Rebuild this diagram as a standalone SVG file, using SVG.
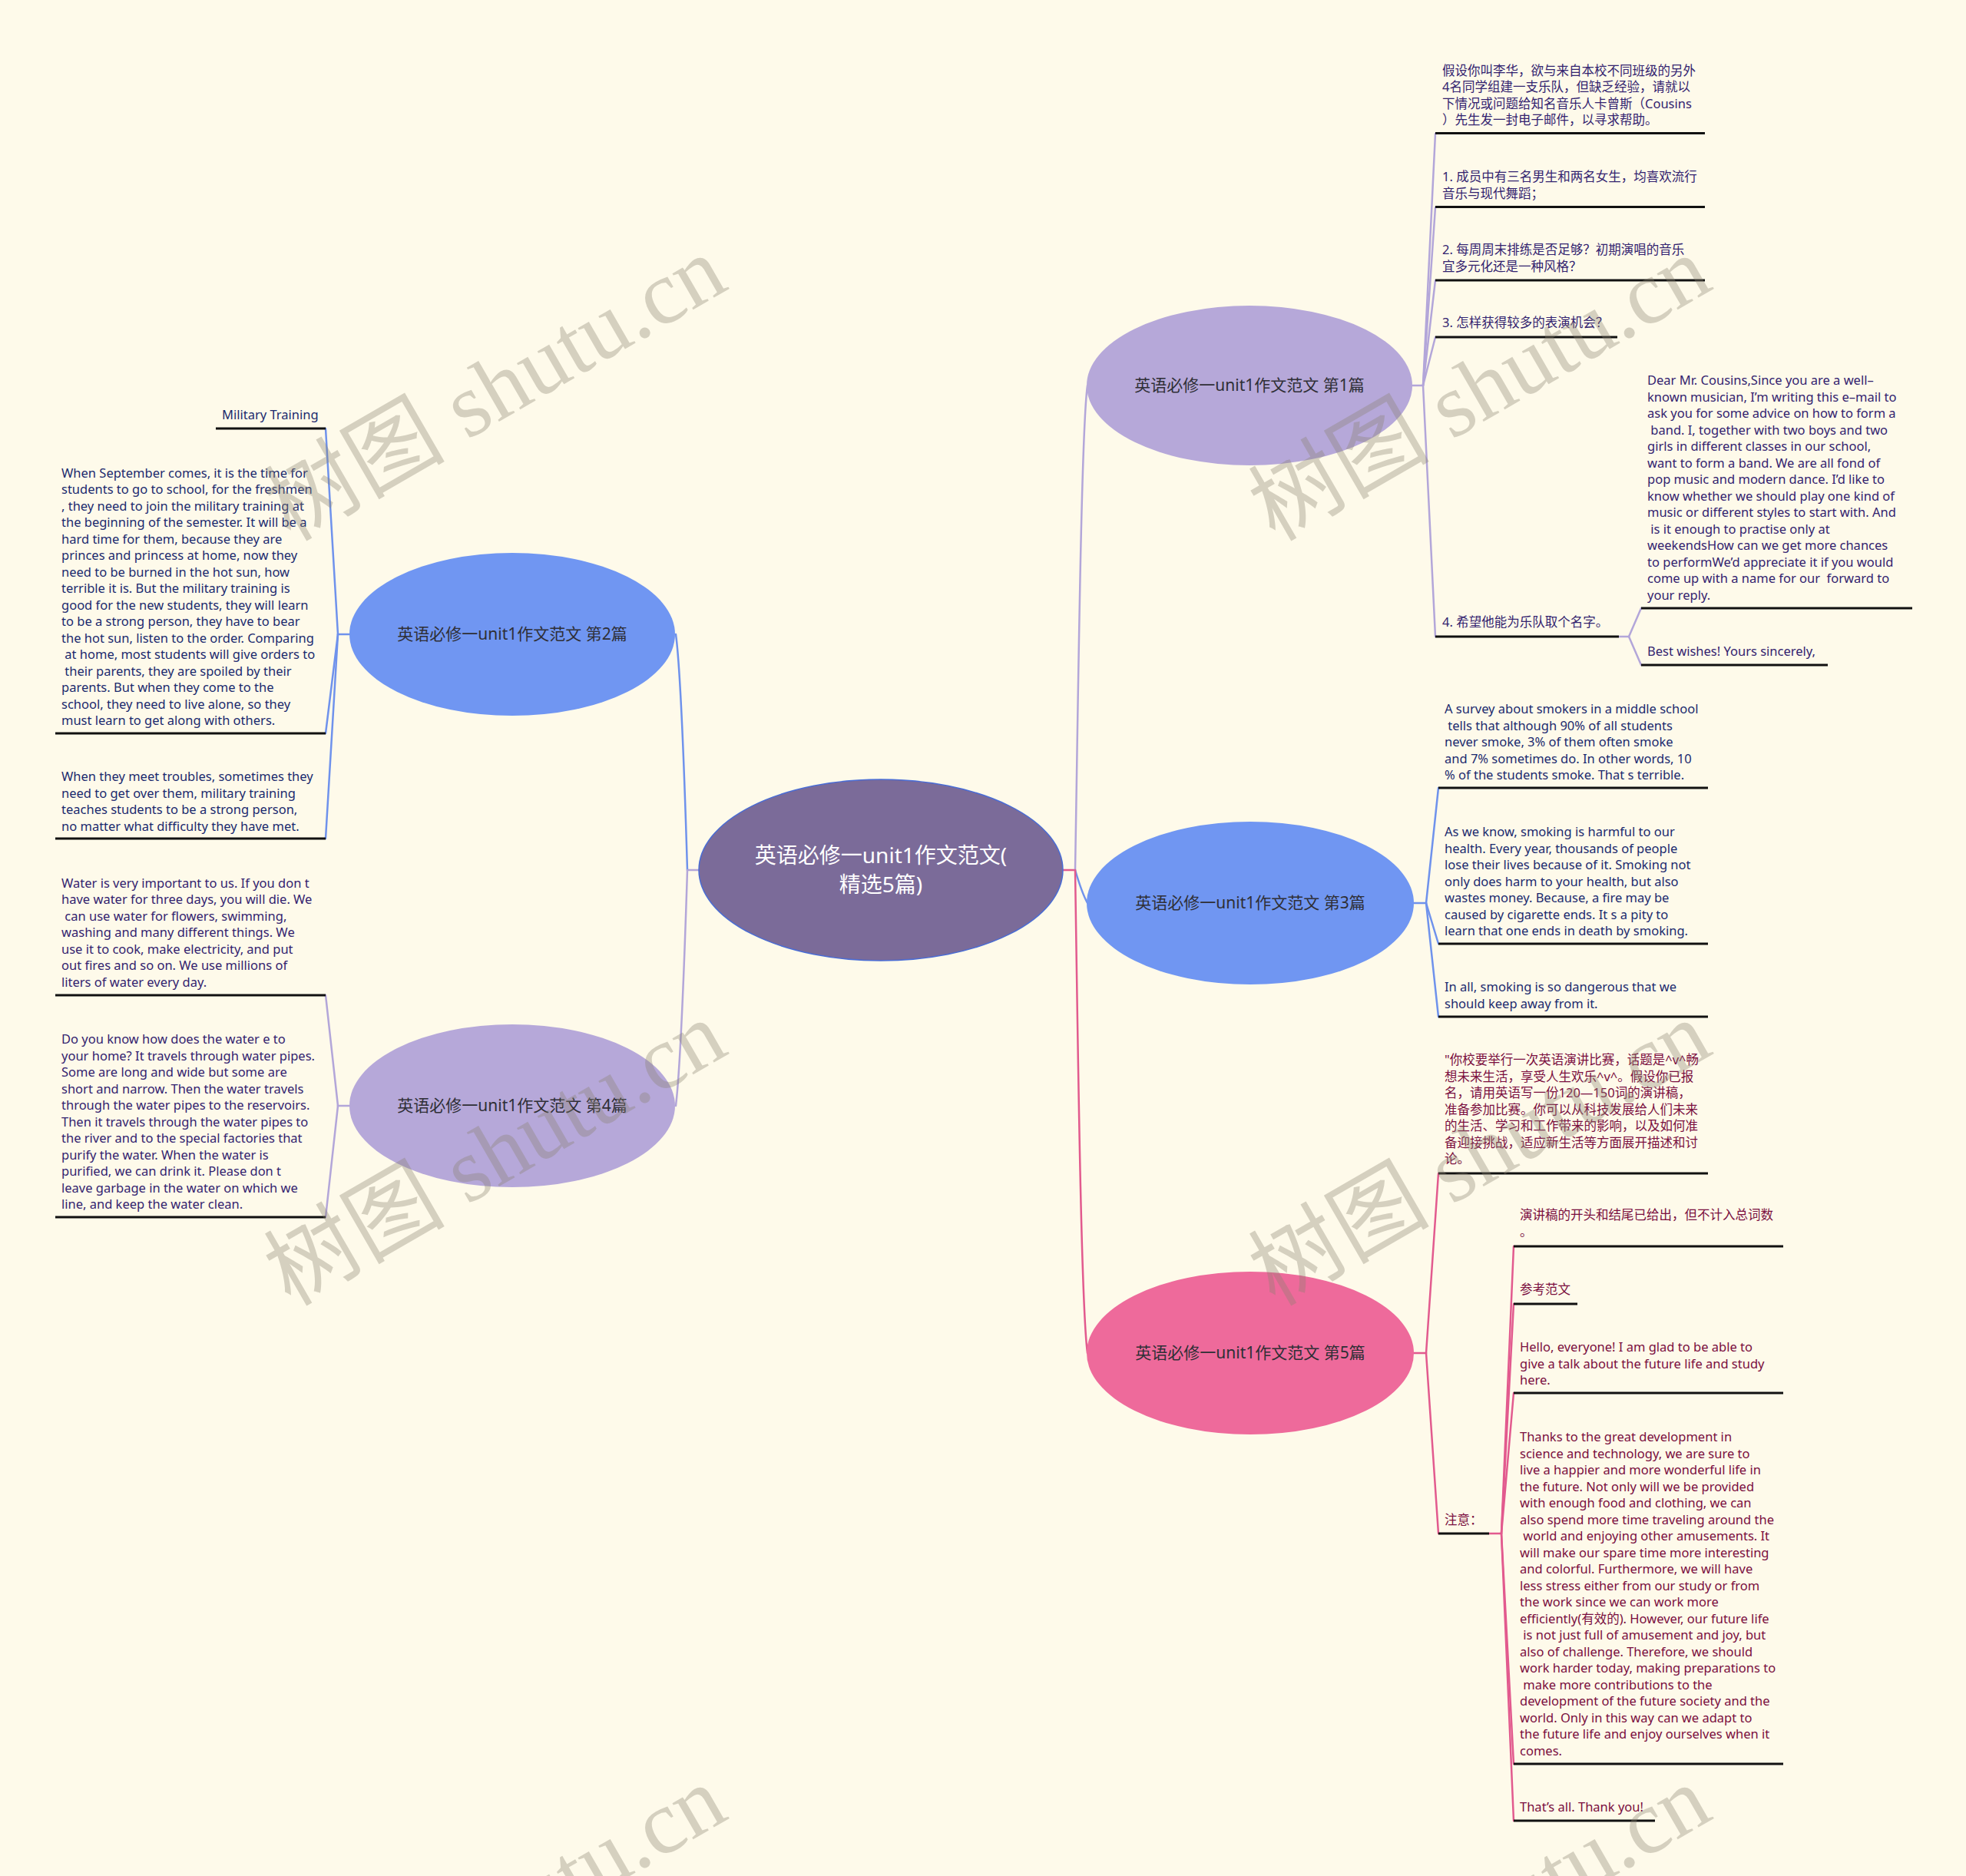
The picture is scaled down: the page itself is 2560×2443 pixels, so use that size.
<svg xmlns="http://www.w3.org/2000/svg" width="2560" height="2443" viewBox="0 0 2560 2443">
<style>
.lf{font-family:"Noto Sans","Noto Sans CJK SC",sans-serif;font-size:16.5px}
.nd{font-family:"Noto Sans","Noto Sans CJK SC",sans-serif;font-size:21px;fill:#2f2f36;text-anchor:middle}
.ct{font-family:"Noto Sans","Noto Sans CJK SC",sans-serif;font-size:28px;fill:#ffffff;text-anchor:middle}
.ul{stroke:#111111;stroke-width:3;fill:none}
.cn{fill:none;stroke-width:2.5;stroke-linecap:round}
.pu{stroke:#b3a6d9}
.bl{stroke:#6f92ec}
.pk{stroke:#e25a8e}
.t1{fill:#33236f}
.t2{fill:#1b2a6e}
.t5{fill:#7a0e3e}
.wm{font-family:"Liberation Serif","Noto Sans CJK SC",serif;font-size:118px;fill:#8a8370;opacity:0.35}
</style>
<rect x="0" y="0" width="2560" height="2443" fill="#fefaea"/>

<g id="connectors">
  <path class="cn pk" d="M1384,1133 L1400,1133"/>
  <path class="cn pu" d="M1400,1133 C1404,900 1408,560 1416,502"/>
  <path class="cn bl" d="M1400,1133 C1405,1150 1410,1165 1416,1176"/>
  <path class="cn pk" d="M1400,1133 C1404,1400 1408,1700 1416,1762"/>
  <path class="cn pu" d="M910,1133 L895,1133"/>
  <path class="cn bl" d="M895,1133 C891,1000 886,870 880,826"/>
  <path class="cn pu" d="M895,1133 C891,1260 886,1390 880,1440"/>
  <path class="cn pu" d="M1838,502 L1853,502"/>
  <path class="cn pu" d="M1853,502 L1869,174"/>
  <path class="cn pu" d="M1853,502 L1869,270"/>
  <path class="cn pu" d="M1853,502 L1869,365"/>
  <path class="cn pu" d="M1853,502 L1869,439"/>
  <path class="cn pu" d="M1853,502 L1869,829"/>
  <path class="cn pu" d="M2108,829 L2121,829"/>
  <path class="cn pu" d="M2121,829 L2137,792"/>
  <path class="cn pu" d="M2121,829 L2137,866"/>
  <path class="cn bl" d="M1841,1176 L1857,1176"/>
  <path class="cn bl" d="M1857,1176 L1873,1026"/>
  <path class="cn bl" d="M1857,1176 L1873,1229"/>
  <path class="cn bl" d="M1857,1176 L1873,1324"/>
  <path class="cn pk" d="M1841,1762 L1857,1762"/>
  <path class="cn pk" d="M1857,1762 L1873,1528"/>
  <path class="cn pk" d="M1857,1762 L1873,1997"/>
  <path class="cn pk" d="M1939,1997 L1955,1997"/>
  <path class="cn pk" d="M1955,1997 L1971,1623"/>
  <path class="cn pk" d="M1955,1997 L1971,1698"/>
  <path class="cn pk" d="M1955,1997 L1971,1814"/>
  <path class="cn pk" d="M1955,1997 L1971,2297"/>
  <path class="cn pk" d="M1955,1997 L1971,2371"/>
  <path class="cn bl" d="M455,826 L440,826"/>
  <path class="cn bl" d="M440,826 L424,558"/>
  <path class="cn bl" d="M440,826 L424,955"/>
  <path class="cn bl" d="M440,826 L424,1092"/>
  <path class="cn pu" d="M455,1440 L440,1440"/>
  <path class="cn pu" d="M440,1440 L424,1296"/>
  <path class="cn pu" d="M440,1440 L424,1585"/>
</g>

<g id="center">
  <ellipse cx="1147" cy="1133" rx="237" ry="118" fill="#7b6b99" stroke="#4a6cd4" stroke-width="1.5"/>
  <text class="ct" x="1147" y="1124">英语必修一unit1作文范文(</text>
  <text class="ct" x="1147" y="1162">精选5篇)</text>
</g>

<g id="b1">
  <ellipse cx="1627" cy="502" rx="212" ry="104" fill="#b6a8d9"/>
  <text class="nd" x="1627" y="509">英语必修一unit1作文范文 第1篇</text>
</g>
<g id="b2">
  <ellipse cx="667" cy="826" rx="212" ry="106" fill="#7096f2"/>
  <text class="nd" x="667" y="833">英语必修一unit1作文范文 第2篇</text>
</g>
<g id="b3">
  <ellipse cx="1628" cy="1176" rx="213" ry="106" fill="#7096f2"/>
  <text class="nd" x="1628" y="1183">英语必修一unit1作文范文 第3篇</text>
</g>
<g id="b4">
  <ellipse cx="667" cy="1440" rx="212" ry="106" fill="#b6a8d9"/>
  <text class="nd" x="667" y="1447">英语必修一unit1作文范文 第4篇</text>
</g>
<g id="b5">
  <ellipse cx="1628" cy="1762" rx="213" ry="106" fill="#ee6a9b"/>
  <text class="nd" x="1628" y="1769">英语必修一unit1作文范文 第5篇</text>
</g>

<g id="b1-l1">
  <text class="lf t1"><tspan x="1878" y="97.5">假设你叫李华，欲与来自本校不同班级的另外</tspan><tspan x="1878" y="119">4名同学组建一支乐队，但缺乏经验，请就以</tspan><tspan x="1878" y="140.5">下情况或问题给知名音乐人卡曾斯（Cousins</tspan><tspan x="1878" y="162">）先生发一封电子邮件，以寻求帮助。</tspan></text>
  <line class="ul" x1="1869" y1="173.5" x2="2220" y2="173.5"/>
</g>
<g id="b1-l2">
  <text class="lf t1"><tspan x="1878" y="236">1. 成员中有三名男生和两名女生，均喜欢流行</tspan><tspan x="1878" y="257.5">音乐与现代舞蹈；</tspan></text>
  <line class="ul" x1="1869" y1="269.5" x2="2220" y2="269.5"/>
</g>
<g id="b1-l3">
  <text class="lf t1"><tspan x="1878" y="331">2. 每周周末排练是否足够？初期演唱的音乐</tspan><tspan x="1878" y="352.5">宜多元化还是一种风格？</tspan></text>
  <line class="ul" x1="1869" y1="365" x2="2220" y2="365"/>
</g>
<g id="b1-l4">
  <text class="lf t1" x="1878" y="426">3. 怎样获得较多的表演机会？</text>
  <line class="ul" x1="1869" y1="439" x2="2106" y2="439"/>
</g>
<g id="b1-l5">
  <text class="lf t1" x="1878" y="816">4. 希望他能为乐队取个名字。</text>
  <line class="ul" x1="1869" y1="829" x2="2108" y2="829"/>
</g>
<g id="b1-l5a">
  <text class="lf t1"><tspan x="2145" y="501">Dear Mr. Cousins,Since you are a well–</tspan><tspan x="2145" y="522.5">known musician, I’m writing this e–mail to</tspan><tspan x="2145" y="544">ask you for some advice on how to form a</tspan><tspan x="2145" y="565.5">&#160;band. I, together with two boys and two</tspan><tspan x="2145" y="587">girls in different classes in our school,</tspan><tspan x="2145" y="608.5">want to form a band. We are all fond of</tspan><tspan x="2145" y="630">pop music and modern dance. I’d like to</tspan><tspan x="2145" y="651.5">know whether we should play one kind of</tspan><tspan x="2145" y="673">music or different styles to start with. And</tspan><tspan x="2145" y="694.5">&#160;is it enough to practise only at</tspan><tspan x="2145" y="716">weekendsHow can we get more chances</tspan><tspan x="2145" y="737.5">to performWe’d appreciate it if you would</tspan><tspan x="2145" y="759">come up with a name for our &#160;forward to</tspan><tspan x="2145" y="780.5">your reply.</tspan></text>
  <line class="ul" x1="2137" y1="792" x2="2490" y2="792"/>
</g>
<g id="b1-l5b">
  <text class="lf t1" x="2145" y="853.5">Best wishes! Yours sincerely,</text>
  <line class="ul" x1="2137" y1="866" x2="2380" y2="866"/>
</g>

<g id="b3-l1">
  <text class="lf t2"><tspan x="1881" y="929">A survey about smokers in a middle school</tspan><tspan x="1881" y="950.5">&#160;tells that although 90% of all students</tspan><tspan x="1881" y="972">never smoke, 3% of them often smoke</tspan><tspan x="1881" y="993.5">and 7% sometimes do. In other words, 10</tspan><tspan x="1881" y="1015">% of the students smoke. That s terrible.</tspan></text>
  <line class="ul" x1="1873" y1="1026" x2="2224" y2="1026"/>
</g>
<g id="b3-l2">
  <text class="lf t2"><tspan x="1881" y="1089">As we know, smoking is harmful to our</tspan><tspan x="1881" y="1110.5">health. Every year, thousands of people</tspan><tspan x="1881" y="1132">lose their lives because of it. Smoking not</tspan><tspan x="1881" y="1153.5">only does harm to your health, but also</tspan><tspan x="1881" y="1175">wastes money. Because, a fire may be</tspan><tspan x="1881" y="1196.5">caused by cigarette ends. It s a pity to</tspan><tspan x="1881" y="1218">learn that one ends in death by smoking.</tspan></text>
  <line class="ul" x1="1873" y1="1229" x2="2224" y2="1229"/>
</g>
<g id="b3-l3">
  <text class="lf t2"><tspan x="1881" y="1291">In all, smoking is so dangerous that we</tspan><tspan x="1881" y="1312.5">should keep away from it.</tspan></text>
  <line class="ul" x1="1873" y1="1324" x2="2224" y2="1324"/>
</g>

<g id="b5-l1">
  <text class="lf t5"><tspan x="1881" y="1386">"你校要举行一次英语演讲比赛，话题是^v^畅</tspan><tspan x="1881" y="1407.5">想未来生活，享受人生欢乐^v^。假设你已报</tspan><tspan x="1881" y="1429">名，请用英语写一份120—150词的演讲稿，</tspan><tspan x="1881" y="1450.5">准备参加比赛。你可以从科技发展给人们未来</tspan><tspan x="1881" y="1472">的生活、学习和工作带来的影响，以及如何准</tspan><tspan x="1881" y="1493.5">备迎接挑战，适应新生活等方面展开描述和讨</tspan><tspan x="1881" y="1515">论。</tspan></text>
  <line class="ul" x1="1873" y1="1528" x2="2224" y2="1528"/>
</g>
<g id="b5-l2">
  <text class="lf t5" x="1881" y="1985">注意：</text>
  <line class="ul" x1="1873" y1="1997" x2="1939" y2="1997"/>
</g>
<g id="b5-l2a">
  <text class="lf t5"><tspan x="1979" y="1588">演讲稿的开头和结尾已给出，但不计入总词数</tspan><tspan x="1979" y="1609.5">。</tspan></text>
  <line class="ul" x1="1971" y1="1623" x2="2322" y2="1623"/>
</g>
<g id="b5-l2b">
  <text class="lf t5" x="1979" y="1685">参考范文</text>
  <line class="ul" x1="1971" y1="1698" x2="2054" y2="1698"/>
</g>
<g id="b5-l2c">
  <text class="lf t5"><tspan x="1979" y="1760">Hello, everyone! I am glad to be able to</tspan><tspan x="1979" y="1781.5">give a talk about the future life and study</tspan><tspan x="1979" y="1803">here.</tspan></text>
  <line class="ul" x1="1971" y1="1814" x2="2322" y2="1814"/>
</g>
<g id="b5-l2d">
  <text class="lf t5"><tspan x="1979" y="1877">Thanks to the great development in</tspan><tspan x="1979" y="1898.5">science and technology, we are sure to</tspan><tspan x="1979" y="1920">live a happier and more wonderful life in</tspan><tspan x="1979" y="1941.5">the future. Not only will we be provided</tspan><tspan x="1979" y="1963">with enough food and clothing, we can</tspan><tspan x="1979" y="1984.5">also spend more time traveling around the</tspan><tspan x="1979" y="2006">&#160;world and enjoying other amusements. It</tspan><tspan x="1979" y="2027.5">will make our spare time more interesting</tspan><tspan x="1979" y="2049">and colorful. Furthermore, we will have</tspan><tspan x="1979" y="2070.5">less stress either from our study or from</tspan><tspan x="1979" y="2092">the work since we can work more</tspan><tspan x="1979" y="2113.5">efficiently(有效的). However, our future life</tspan><tspan x="1979" y="2135">&#160;is not just full of amusement and joy, but</tspan><tspan x="1979" y="2156.5">also of challenge. Therefore, we should</tspan><tspan x="1979" y="2178">work harder today, making preparations to</tspan><tspan x="1979" y="2199.5">&#160;make more contributions to the</tspan><tspan x="1979" y="2221">development of the future society and the</tspan><tspan x="1979" y="2242.5">world. Only in this way can we adapt to</tspan><tspan x="1979" y="2264">the future life and enjoy ourselves when it</tspan><tspan x="1979" y="2285.5">comes.</tspan></text>
  <line class="ul" x1="1971" y1="2297" x2="2322" y2="2297"/>
</g>
<g id="b5-l2e">
  <text class="lf t5" x="1979" y="2359">That’s all. Thank you!</text>
  <line class="ul" x1="1971" y1="2371" x2="2155" y2="2371"/>
</g>

<g id="b2-l1">
  <text class="lf t2" x="289" y="546">Military Training</text>
  <line class="ul" x1="281" y1="558" x2="424" y2="558"/>
</g>
<g id="b2-l2">
  <text class="lf t2"><tspan x="80" y="621.5">When September comes, it is the time for</tspan><tspan x="80" y="643">students to go to school, for the freshmen</tspan><tspan x="80" y="664.5">, they need to join the military training at</tspan><tspan x="80" y="686">the beginning of the semester. It will be a</tspan><tspan x="80" y="707.5">hard time for them, because they are</tspan><tspan x="80" y="729">princes and princess at home, now they</tspan><tspan x="80" y="750.5">need to be burned in the hot sun, how</tspan><tspan x="80" y="772">terrible it is. But the military training is</tspan><tspan x="80" y="793.5">good for the new students, they will learn</tspan><tspan x="80" y="815">to be a strong person, they have to bear</tspan><tspan x="80" y="836.5">the hot sun, listen to the order. Comparing</tspan><tspan x="80" y="858">&#160;at home, most students will give orders to</tspan><tspan x="80" y="879.5">&#160;their parents, they are spoiled by their</tspan><tspan x="80" y="901">parents. But when they come to the</tspan><tspan x="80" y="922.5">school, they need to live alone, so they</tspan><tspan x="80" y="944">must learn to get along with others.</tspan></text>
  <line class="ul" x1="72" y1="955" x2="424" y2="955"/>
</g>
<g id="b2-l3">
  <text class="lf t2"><tspan x="80" y="1017">When they meet troubles, sometimes they</tspan><tspan x="80" y="1038.5">need to get over them, military training</tspan><tspan x="80" y="1060">teaches students to be a strong person,</tspan><tspan x="80" y="1081.5">no matter what difficulty they have met.</tspan></text>
  <line class="ul" x1="72" y1="1092" x2="424" y2="1092"/>
</g>

<g id="b4-l1">
  <text class="lf t1"><tspan x="80" y="1155.5">Water is very important to us. If you don t</tspan><tspan x="80" y="1177">have water for three days, you will die. We</tspan><tspan x="80" y="1198.5">&#160;can use water for flowers, swimming,</tspan><tspan x="80" y="1220">washing and many different things. We</tspan><tspan x="80" y="1241.5">use it to cook, make electricity, and put</tspan><tspan x="80" y="1263">out fires and so on. We use millions of</tspan><tspan x="80" y="1284.5">liters of water every day.</tspan></text>
  <line class="ul" x1="72" y1="1296" x2="424" y2="1296"/>
</g>
<g id="b4-l2">
  <text class="lf t1"><tspan x="80" y="1359">Do you know how does the water e to</tspan><tspan x="80" y="1380.5">your home? It travels through water pipes.</tspan><tspan x="80" y="1402">Some are long and wide but some are</tspan><tspan x="80" y="1423.5">short and narrow. Then the water travels</tspan><tspan x="80" y="1445">through the water pipes to the reservoirs.</tspan><tspan x="80" y="1466.5">Then it travels through the water pipes to</tspan><tspan x="80" y="1488">the river and to the special factories that</tspan><tspan x="80" y="1509.5">purify the water. When the water is</tspan><tspan x="80" y="1531">purified, we can drink it. Please don t</tspan><tspan x="80" y="1552.5">leave garbage in the water on which we</tspan><tspan x="80" y="1574">line, and keep the water clean.</tspan></text>
  <line class="ul" x1="72" y1="1585" x2="424" y2="1585"/>
</g>

<g id="watermarks">
  <text class="wm" transform="translate(378,706) rotate(-30)">树图 shutu.cn</text>
  <text class="wm" transform="translate(1660,706) rotate(-30)">树图 shutu.cn</text>
  <text class="wm" transform="translate(378,1702) rotate(-30)">树图 shutu.cn</text>
  <text class="wm" transform="translate(1660,1702) rotate(-30)">树图 shutu.cn</text>
  <text class="wm" transform="translate(378,2698) rotate(-30)">树图 shutu.cn</text>
  <text class="wm" transform="translate(1660,2698) rotate(-30)">树图 shutu.cn</text>
</g>
</svg>
